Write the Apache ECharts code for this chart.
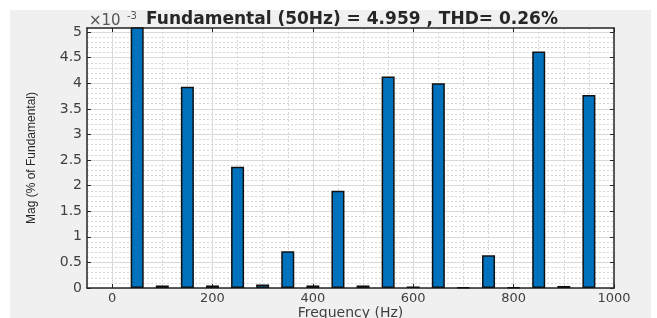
<!DOCTYPE html>
<html>
<head>
<meta charset="utf-8">
<script src="https://cdn.jsdelivr.net/npm/echarts@6/dist/echarts.min.js"></script>
<style>
html, body { margin: 0; padding: 0; background: #fff; }
#chart { width: 657px; height: 318px; }
</style>
</head>
<body>
<div id="chart"></div>
<script>
// harmonic spectrum (x10^-3 % of fundamental), one bar every 50 Hz
var freqs = [50, 100, 150, 200, 250, 300, 350, 400, 450, 500, 550, 600, 650, 700, 750, 800, 850, 900, 950];
var mags = [5.1, 0.05, 3.93, 0.05, 2.37, 0.07, 0.72, 0.05, 1.90, 0.05, 4.13, 0.03, 4.00, 0.01, 0.64, 0.01, 4.62, 0.04, 3.77];
var xTicks = [0, 200, 400, 600, 800, 1000];
var yTicks = [0, 0.5, 1, 1.5, 2, 2.5, 3, 3.5, 4, 4.5, 5];
var titleText = 'Fundamental (50Hz) = 4.959 , THD= 0.26%';

var axisColor = '#262626';
var labelColor = '#404040';
var majorGrid = '#dcdcdc';
var minorGrid = '#d6d6d6';

var barData = [];
for (var i = 0; i < freqs.length; i++) {
    barData.push([freqs[i], mags[i]]);
}

var chart = echarts.init(document.getElementById('chart'));
chart.setOption({
    animation: false,
    backgroundColor: '#fff',
    graphic: [
        // grey figure area
        {type: 'rect', z: -100, silent: true, shape: {x: 10, y: 10, width: 641, height: 308}, style: {fill: '#f0f0f0'}},
        {type: 'text', x: 352, y: 20, silent: true,
            style: {text: titleText, align: 'center', verticalAlign: 'middle', fill: axisColor,
                font: 'bold 17px "DejaVu Sans"'}},
        // axis exponent
        {type: 'text', x: 89, y: 21, silent: true,
            style: {text: '\u00d710', align: 'left', verticalAlign: 'middle', fill: '#555',
                font: '15px "DejaVu Sans"'}},
        {type: 'text', x: 127, y: 16, silent: true,
            style: {text: '-3', align: 'left', verticalAlign: 'middle', fill: '#555',
                font: '10px "DejaVu Sans"'}}
    ],
    grid: {
        left: 87, right: 43, top: 28, bottom: 30,
        outerBoundsMode: 'none',
        containLabel: false,
        show: true, backgroundColor: '#fff', borderWidth: 0
    },
    xAxis: [{
        type: 'value', min: -50, max: 1000, position: 'bottom',
        name: 'Frequency (Hz)', nameLocation: 'middle', nameGap: 18, nameMoveOverlap: false,
        nameTextStyle: {fontFamily: 'DejaVu Sans', fontSize: 14, color: labelColor},
        axisLine: {onZero: false, lineStyle: {color: axisColor, width: 1.5}},
        axisTick: {inside: true, length: 4, customValues: xTicks, lineStyle: {color: axisColor}},
        axisLabel: {customValues: xTicks, margin: 4, fontFamily: 'DejaVu Sans', fontSize: 13, color: labelColor,
            formatter: function (v) { return String(v); }},
        splitLine: {show: true, lineStyle: {color: majorGrid, width: 1}}
    }, {
        type: 'value', min: -50, max: 1000, position: 'top',
        axisLine: {onZero: false, lineStyle: {color: axisColor, width: 1.5}},
        axisTick: {inside: true, length: 4, customValues: xTicks, lineStyle: {color: axisColor}},
        axisLabel: {show: false},
        splitLine: {show: false}
    }, {
        // minor grid every 50 Hz
        type: 'value', min: -50, max: 1000, interval: 50, position: 'bottom',
        axisLine: {show: false}, axisTick: {show: false}, axisLabel: {show: false},
        splitLine: {show: true, lineStyle: {color: minorGrid, type: [2, 2], width: 1}}
    }],
    yAxis: [{
        type: 'value', min: 0, max: 5.08, position: 'left',
        name: 'Mag (% of Fundamental)', nameLocation: 'middle', nameGap: 49, nameMoveOverlap: false,
        nameTextStyle: {fontFamily: 'Liberation Sans', fontSize: 12, color: axisColor},
        axisLine: {onZero: false, lineStyle: {color: axisColor, width: 1.5}},
        axisTick: {inside: true, length: 4, customValues: yTicks, lineStyle: {color: axisColor}},
        axisLabel: {customValues: yTicks, margin: 5, fontFamily: 'DejaVu Sans', fontSize: 14, color: labelColor},
        splitLine: {show: true, lineStyle: {color: majorGrid, width: 1}}
    }, {
        type: 'value', min: 0, max: 5.08, position: 'right',
        axisLine: {show: true, onZero: false, lineStyle: {color: axisColor, width: 1.5}},
        axisTick: {show: true, inside: true, length: 4, customValues: yTicks, lineStyle: {color: axisColor}},
        axisLabel: {show: false},
        splitLine: {show: false}
    }, {
        // minor grid every 0.1
        type: 'value', min: 0, max: 5.08, interval: 0.1, position: 'left',
        axisLine: {show: false}, axisTick: {show: false}, axisLabel: {show: false},
        splitLine: {show: true, lineStyle: {color: minorGrid, type: [2, 2], width: 1}}
    }],
    series: [{
        name: 'Mag',
        type: 'bar',
        xAxisIndex: 0,
        yAxisIndex: 0,
        clip: true,
        barWidth: 13,
        data: barData,
        itemStyle: {color: '#0072BD', borderColor: '#111', borderWidth: 1.5}
    }]
});
</script>
</body>
</html>
